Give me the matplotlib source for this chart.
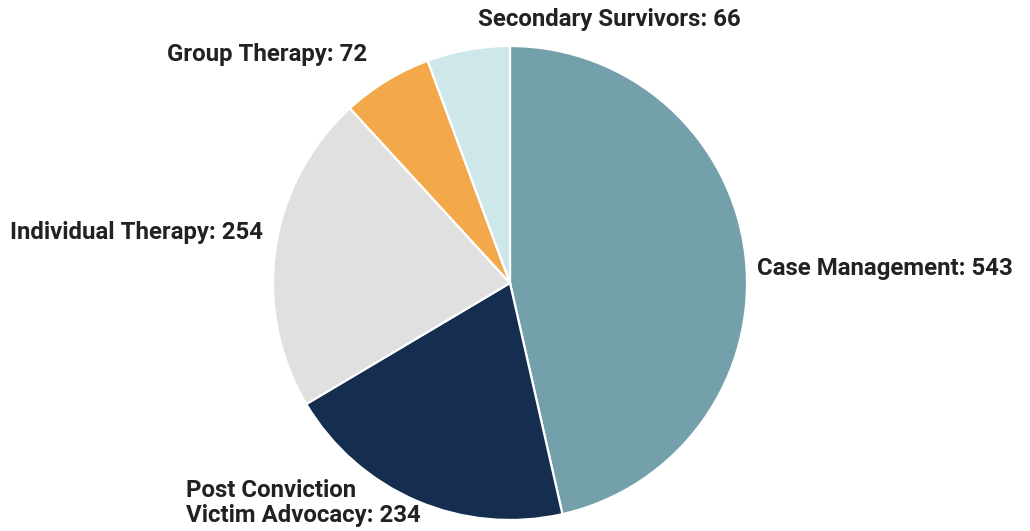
import matplotlib
matplotlib.use("Agg")
import matplotlib.pyplot as plt

labels = ["Case Management", "Post Conviction\nVictim Advocacy", "Individual Therapy",
          "Group Therapy", "Secondary Survivors"]
values = [543, 234, 254, 72, 66]
colors = ["#74A0AB", "#152D4F", "#E0E0E0", "#F3A84A", "#CEE7E8"]

# label anchors in pie-radius units, with alignment
label_pos = [(1.042, 0.063, "left"), (-1.367, -0.928, "left"), (-1.042, 0.211, "right"),
             (-0.603, 0.966, "right"), (-0.135, 1.110, "left")]

plt.rcParams["font.family"] = ["Roboto", "DejaVu Sans"]

W, H = 1030, 531
fig = plt.figure(figsize=(W / 100, H / 100), dpi=100)
cx, cy, R = 510, 283, 237
ax = fig.add_axes([(cx - R) / W, (H - cy - R) / H, 2 * R / W, 2 * R / H])

ax.pie(values, colors=colors, startangle=90, counterclock=False, radius=1,
       wedgeprops=dict(edgecolor="white", linewidth=1.6))
ax.set_xlim(-1, 1)
ax.set_ylim(-1, 1)
ax.set_aspect("equal")
ax.axis("off")

for name, v, (x, y, ha) in zip(labels, values, label_pos):
    ax.text(x, y, f"{name}: {v}", ha=ha, va="center", fontsize=17.3, fontweight="bold",
            color="#222222", clip_on=False, linespacing=1.12)

fig.savefig("out.png", dpi=100)
